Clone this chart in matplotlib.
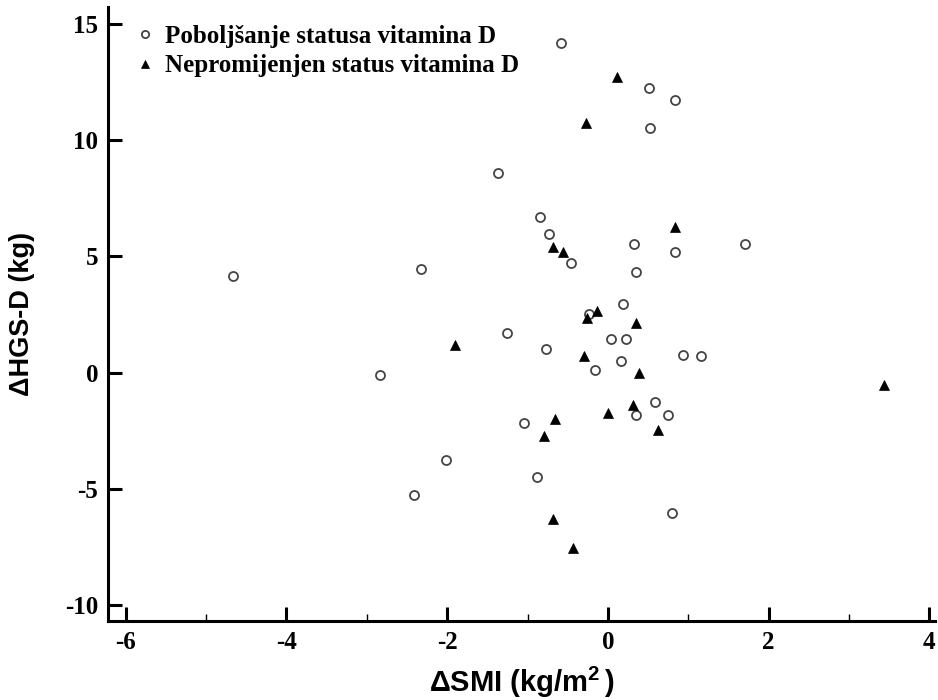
import matplotlib
matplotlib.use("Agg")
import matplotlib.pyplot as plt
from matplotlib.ticker import MultipleLocator

plt.rcParams["axes.unicode_minus"] = False
plt.rcParams["mathtext.fontset"] = "custom"
plt.rcParams["mathtext.bf"] = "Liberation Sans:bold"
plt.rcParams["mathtext.rm"] = "Liberation Sans"

# Poboljšanje statusa vitamina D (open circles)
improved_smi = [-4.67, -2.33, -2.84, -2.02, -2.41, -0.58, 0.51, 0.83, 0.53, -1.37,
                -0.85, -0.73, -0.46, 0.32, 0.84, 1.70, 0.35, 0.19, -0.24, -1.25,
                0.04, 0.23, -0.77, 0.94, 1.16, 0.16, -0.16, -1.05, 0.58, 0.35,
                0.75, -0.88, 0.80]
improved_hgs = [4.16, 4.46, -0.09, -3.78, -5.27, 14.19, 12.24, 11.71, 10.53, 8.59,
                6.69, 5.96, 4.73, 5.53, 5.20, 5.53, 4.31, 2.94, 2.52, 1.72,
                1.46, 1.46, 1.03, 0.77, 0.73, 0.50, 0.13, -2.15, -1.25, -1.83,
                -1.82, -4.48, -6.06]

# Nepromijenjen status vitamina D (filled triangles)
unchanged_smi = [0.11, -0.27, 0.83, -0.68, -0.56, -1.90, -0.13, -0.26, 0.35, -0.30,
                 0.39, -0.66, -0.79, 0.00, 0.31, 0.62, -0.68, -0.43, 3.44]
unchanged_hgs = [12.70, 10.75, 6.25, 5.39, 5.19, 1.20, 2.67, 2.35, 2.14, 0.72,
                 -0.01, -1.99, -2.74, -1.73, -1.41, -2.46, -6.32, -7.54, -0.52]

x_ticks = [-6, -4, -2, 0, 2, 4]
y_ticks = [-10, -5, 0, 5, 10, 15]

serif = ["Liberation Serif", "DejaVu Serif"]
sans = ["Liberation Sans", "DejaVu Sans"]

fig = plt.figure(figsize=(9.38, 7.0), dpi=100)
ax = fig.add_axes([108 / 938, 79 / 700, 827 / 938, 614 / 700])

ax.plot(improved_smi, improved_hgs, linestyle="none", marker="o", ms=6.5,
        mfc="white", mec="#444444", mew=1.3, label="Poboljšanje statusa vitamina D")
ax.plot(unchanged_smi, unchanged_hgs, linestyle="none", marker="^", ms=7,
        mfc="black", mec="black", mew=0.5, label="Nepromijenjen status vitamina D")

ax.set_xlim(-6.22, 4.07)
ax.set_ylim(-10.69, 15.73)
ax.set_xticks(x_ticks)
ax.set_yticks(y_ticks)
ax.xaxis.set_minor_locator(MultipleLocator(1))

for side in ["top", "right"]:
    ax.spines[side].set_visible(False)
for side in ["left", "bottom"]:
    ax.spines[side].set_linewidth(2.2)

ax.tick_params(which="major", direction="in", length=10, width=2.2, pad=7)
ax.tick_params(axis="x", which="minor", direction="in", length=5, width=1)
ax.tick_params(axis="y", which="minor", left=False)

for lbl in ax.get_xticklabels() + ax.get_yticklabels():
    lbl.set_family(serif)
    lbl.set_fontweight("bold")
    lbl.set_fontsize(18)

ax.set_xlabel("ΔSMI (kg/m$^{\\mathbf{2}}\\,$)", family=sans, fontweight="bold",
              fontsize=21)
ax.xaxis.set_label_coords(0.5, -0.072)
ax.set_ylabel("ΔHGS-D (kg)", family=sans, fontweight="bold", fontsize=19.5)
ax.yaxis.set_label_coords(-0.088, 0.5)

leg = ax.legend(loc="upper left", bbox_to_anchor=(0.005, 0.995), frameon=False,
                prop={"family": serif, "weight": "bold", "size": 18},
                handletextpad=0.1, handlelength=1.4, markerscale=0.8,
                labelspacing=0.25, borderaxespad=0.2)

fig.savefig("out.png", dpi=100)
